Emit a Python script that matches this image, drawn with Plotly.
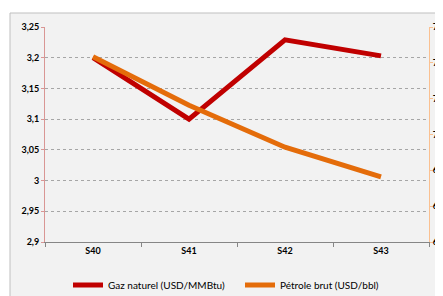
import plotly.graph_objects as go

weeks = ["S40", "S41", "S42", "S43"]
gaz_naturel = [3.20, 3.10, 3.229, 3.203]
petrole_brut = [74.34, 71.63, 69.29, 67.63]

# page body has an 8px margin: work in window pixels, convert to figure pixels
OFF = 8
W, H = 443 - OFF, 296 - OFF
L, R, T, B = 45 - OFF, 443 - 429, 27 - OFF, 296 - 242
pw, ph = W - L - R, H - T - B

def px(x):  # window x -> paper
    return (x - OFF - L) / pw

def py(y):  # window y -> paper
    return (H - B - (y - OFF)) / ph

fig = go.Figure()
fig.add_trace(go.Scatter(x=weeks, y=gaz_naturel, mode="lines", name="Gaz naturel (USD/MMBtu)",
                         line=dict(color="#c00000", width=5), yaxis="y"))
fig.add_trace(go.Scatter(x=weeks, y=petrole_brut, mode="lines", name="Pétrole brut (USD/bbl)",
                         line=dict(color="#e46c0a", width=5), yaxis="y2"))

tickfont = dict(family="Lato, Arial, sans-serif", size=9, color="#000000", weight="bold")
grid = dict(showgrid=True, gridcolor="#a6a6a6", gridwidth=1, griddash="3px,3px")

fig.update_layout(
    width=W, height=H,
    margin=dict(l=L, r=R, t=T, b=B, autoexpand=False),
    paper_bgcolor="#ffffff",
    plot_bgcolor="#f2f2f2",
    separators=", ",
    showlegend=True,
    legend=dict(orientation="h", x=px(68), xanchor="left", y=py(285), yanchor="middle",
                font=dict(family="Lato, Arial, sans-serif", size=10, color="#000000"),
                bgcolor="rgba(0,0,0,0)", itemwidth=30, traceorder="normal",
                entrywidth=127, entrywidthmode="pixels"),
    xaxis=dict(type="category", showline=True, linecolor="#868686", linewidth=1,
               ticks="outside", tickson="boundaries", ticklen=4, tickcolor="#868686",
               tickfont=tickfont, showgrid=False, range=[-0.5, 3.5]),
    yaxis=dict(range=[2.9, 3.25], dtick=0.05, tick0=2.9, showline=True, linecolor="#d99694",
               linewidth=1, ticks="outside", ticklen=3, tickcolor="#d99694",
               tickfont=tickfont, zeroline=False, **grid),
    yaxis2=dict(range=[64, 76], dtick=2, tick0=64, overlaying="y", side="right",
                showline=True, linecolor="#fac090", linewidth=1, ticks="outside", ticklen=3,
                tickcolor="#fac090", tickfont=tickfont, showgrid=False, zeroline=False,
                ticklabelstandoff=-2),
    shapes=[
        dict(type="rect", xref="paper", yref="paper", x0=px(10), x1=px(460), y0=py(320), y1=py(13),
             line=dict(color="#bfbfbf", width=1), fillcolor="#f2f2f2", layer="below"),
    ],
)

fig.write_html("out.html")
